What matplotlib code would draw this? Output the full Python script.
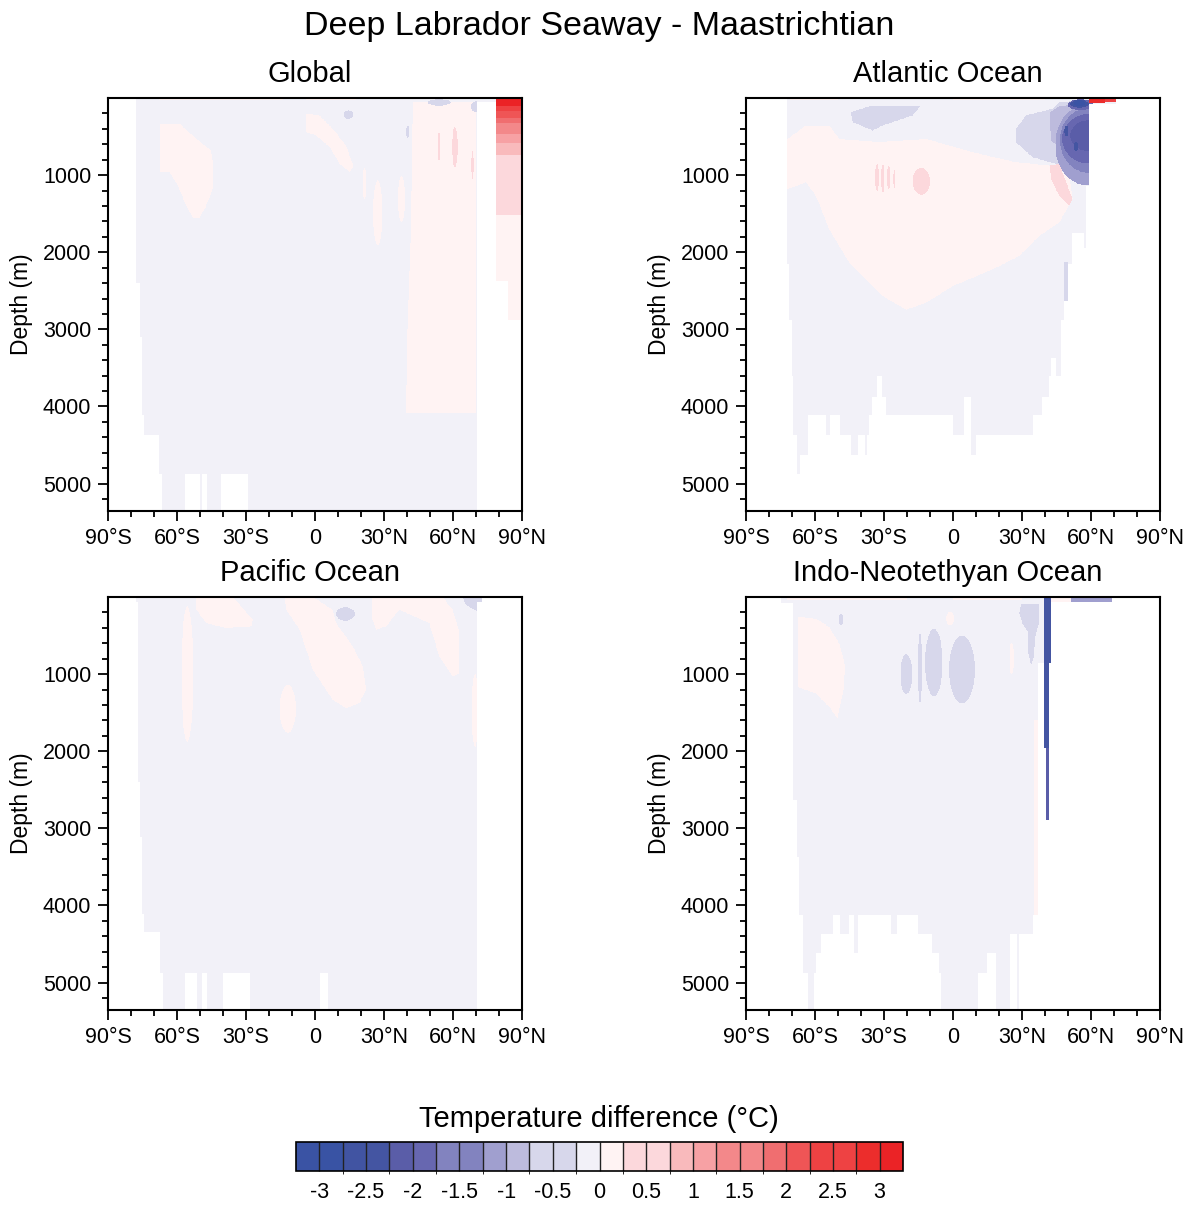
import numpy as np
import matplotlib
matplotlib.use("Agg")
import matplotlib.pyplot as plt
from matplotlib.colors import ListedColormap, BoundaryNorm
from matplotlib.path import Path
from matplotlib.cm import ScalarMappable

plt.rcParams['font.family'] = ['Liberation Sans', 'DejaVu Sans']

# ---------------- colour scale ----------------
LEVELS = [-3.0, -2.75, -2.5, -2.25, -2.0, -1.75, -1.5, -1.25, -1.0, -0.75, -0.5, -0.25,
          0.0, 0.25, 0.5, 0.75, 1.0, 1.25, 1.5, 1.75, 2.0, 2.25, 2.5, 2.75, 3.0]
COLORS = ['#3A53A4', '#3953A4', '#4154A2', '#4455A2', '#5A5DA8', '#6767B0', '#8283BF',
          '#8283BF', '#A09FCF', '#BDBBDD', '#D7D7EB', '#D7D7EB', '#F2F1F8', '#FFF3F3',
          '#FCD8DC', '#FCD8DC', '#F9BABC', '#F7A1A4', '#F3888A', '#F3888A', '#F06E70',
          '#EF5556', '#EE4243', '#EE4243', '#EC2D2C', '#EB2326']
CBAR_TICKS = [-3, -2.5, -2, -1.5, -1, -0.5, 0, 0.5, 1, 1.5, 2, 2.5, 3]
CBAR_LABELS = ['-3', '-2.5', '-2', '-1.5', '-1', '-0.5', '0', '0.5', '1', '1.5', '2', '2.5', '3']

LAT_TICKS = [-90, -60, -30, 0, 30, 60, 90]
LAT_LABELS = ['90°S', '60°S', '30°S', '0', '30°N', '60°N', '90°N']
DEPTH_TICKS = [1000, 2000, 3000, 4000, 5000]
DEPTH_MAX = 5355

TITLE = 'Deep Labrador Seaway - Maastrichtian'
PANEL_TITLES = ['Global', 'Atlantic Ocean', 'Pacific Ocean', 'Indo-Neotethyan Ocean']
CBAR_TITLE = 'Temperature difference (°C)'

BACKGROUND = -0.1   # weak cooling that fills most of the ocean

# ---------------- Global ----------------
GLOBAL_FLOOR_EDGES = [-78.0, -77.0, -76.2, -75.1, -74.1, -67.8, -66.4, -56.3, -50.2, -49.2,
                      -47.0, -40.8, -28.9, 70.7, 78.7, 83.8, 89.5]
GLOBAL_FLOOR_DEPTHS = [2400, 2400, 3100, 4110, 4370, 4870, 5400, 4870, 5400, 4870,
                       5400, 4870, 5400, 60, 2380, 2880]
GLOBAL_POLYGONS = [
    (0.1, [(-67.6, 346), (-58.9, 346), (-51.6, 541), (-45.1, 693), (-44.4, 844), (-44.4, 1190),
           (-47.3, 1407), (-50.2, 1559), (-53.1, 1559), (-56.0, 1407), (-59.6, 1147),
           (-63.2, 974), (-67.6, 974)]),
    (0.1, [(-3.8, 216), (1.9, 238), (7.7, 411), (13.5, 628), (16.7, 888), (15.3, 974),
           (10.7, 866), (6.4, 650), (0.5, 498), (-3.8, 455)]),
    (0.1, [(42.5, 60), (70.3, 60), (70.3, 4090), (39.4, 4090), (40.3, 3000), (41.7, 1700),
           (42.2, 500)]),
]
GLOBAL_ELLIPSES = [  # value, lat, depth, half-width lat, half-height depth
    (0.1, 21.5, 1120, 0.8, 200), (0.1, 27.3, 1500, 2.0, 420), (0.1, 37.6, 1320, 1.5, 300),
    (0.3, 53.9, 640, 0.5, 185), (0.3, 60.8, 650, 1.2, 260), (0.3, 68.5, 880, 0.45, 185),
    (-0.4, 14.5, 227, 2.2, 55), (-0.4, 40.3, 450, 0.8, 80), (-0.4, 54.0, 70, 5.0, 40),
    (-0.4, 70.0, 125, 2.2, 70),
]
GLOBAL_RECTS = [  # value, lat0, lat1, depth0, depth1
    (0.1, -68, -14, 0, 40), (0.1, -4, 18, 0, 40),
    (3.1, 78.7, 89.5, 0, 110), (2.6, 78.7, 89.5, 110, 184), (2.1, 78.7, 89.5, 184, 270),
    (1.9, 78.7, 89.5, 270, 335), (1.4, 78.7, 89.5, 335, 485), (1.1, 78.7, 89.5, 485, 593),
    (0.9, 78.7, 89.5, 593, 744), (0.4, 78.7, 89.5, 744, 1520), (0.1, 78.7, 89.5, 1520, 2900),
]

# ---------------- Atlantic ----------------
ATL_FLOOR_EDGES = [-71.9, -71.2, -70.1, -69.3, -68.0, -66.4, -63.2, -54.9, -53.3, -49.1,
                   -44.1, -41.2, -38.3, -37.4, -36.4, -34.9, -33.2, -31.0, -29.1, -0.2,
                   4.9, 7.8, 10.0, 34.6, 38.7, 41.9, 42.9, 44.8, 46.9, 48.4, 50.3, 51.7,
                   57.1, 58.1, 59.2, 71.0]
ATL_FLOOR_DEPTHS = [2165, 2880, 3615, 4373, 4871, 4624, 4114, 4373, 4114, 4373, 4624, 4373,
                    4624, 4373, 4114, 3875, 3615, 3875, 4114, 4373, 3875, 4624, 4373, 4114,
                    3875, 3615, 3377, 3615, 2880, 2640, 2165, 1754, 1950, 1150, 90]
ATL_POLYGONS = [
    (0.1, [(-71.9, 541), (-63.9, 368), (-53.8, 368), (-49.4, 541), (-32.0, 585), (-11.8, 541),
           (8.5, 714), (27.4, 844), (41.9, 888), (50.6, 1018), (52.0, 1321), (46.2, 1624),
           (37.5, 1797), (28.8, 2057), (17.2, 2230), (-0.2, 2446), (-11.8, 2663),
           (-20.4, 2750), (-30.6, 2576), (-45.1, 2143), (-53.8, 1710), (-59.6, 1277),
           (-63.9, 1104), (-71.9, 1191)]),
    (0.3, [(41.9, 888), (46.2, 866), (49.8, 1147), (52.0, 1321), (50.6, 1408), (46.2, 1277),
           (42.6, 1061)]),
    (-0.4, [(-44.4, 195), (-34.9, 108), (-13.9, 108), (-17.5, 238), (-30.6, 368),
            (-34.9, 433), (-43.6, 325)]),
    (-0.4, [(27.4, 411), (31.7, 238), (43.3, 152), (46.2, 65), (59.2, 43), (59.2, 1147),
            (52.0, 887), (44.8, 866), (34.6, 779), (27.4, 584)]),
    (-0.9, [(41.9, 200), (46.2, 120), (59.2, 60), (59.2, 1130), (53.5, 930), (48.5, 700),
            (42.5, 560)]),
]
ATL_ELLIPSES = [
    (0.3, -33.0, 1040, 0.9, 170), (0.3, -30.5, 1050, 0.8, 180), (0.3, -28.0, 1040, 0.7, 150),
    (0.3, -25.5, 1060, 0.5, 120), (0.3, -13.8, 1090, 3.7, 175),
    (-1.1, 58.0, 620, 13.5, 520), (-1.4, 59.0, 560, 12.5, 420), (-1.8, 59.0, 540, 11.5, 320),
    (-2.1, 59.0, 500, 8.0, 200),
    (-2.4, 49.3, 440, 0.9, 70), (-2.4, 53.5, 640, 1.0, 60),
    (-1.8, 55.5, 100, 5.5, 70), (-2.6, 55.0, 90, 4.0, 50), (-3.1, 55.0, 80, 2.5, 35),
]
ATL_RECTS = [
    (0.1, -71, -50, 0, 45), (0.1, 0, 40, 0, 35), (-0.4, 48.4, 49.8, 2140, 2660),
    (2.9, 59.2, 66.0, 0, 80), (2.3, 66.0, 71.0, 0, 60),
]

# ---------------- Pacific ----------------
PAC_FLOOR_EDGES = [-78.0, -77.0, -76.0, -75.1, -74.1, -67.3, -66.1, -56.3, -51.3, -49.0,
                   -47.0, -40.0, -28.2, 2.0, 5.9, 70.7, 72.5]
PAC_FLOOR_DEPTHS = [60, 2400, 3117, 4114, 4352, 4871, 5400, 4871, 5400, 4871, 5400, 4871,
                    5400, 4871, 5400, 60]
PAC_POLYGONS = [
    (0.1, [(-51.6, 0), (-35.7, 0), (-27.0, 294), (-27.7, 381), (-38.6, 403), (-47.3, 338),
           (-51.6, 165)]),
    (0.1, [(-13.3, 0), (-0.95, 0), (7.7, 165), (9.2, 338), (16.4, 640), (20.8, 900),
           (22.2, 1204), (19.3, 1377), (13.5, 1442), (7.7, 1334), (-0.95, 944), (-6.7, 424),
           (-12.5, 165)]),
    (0.1, [(25.1, 0), (55.5, 0), (59.9, 165), (62.8, 468), (62.8, 987), (59.9, 1030),
           (54.0, 771), (49.7, 338), (36.7, 165), (30.9, 381), (26.6, 424), (25.1, 295)]),
    (-0.4, [(64.2, 0), (72.9, 0), (72.9, 186), (71.5, 208), (65.6, 100)]),
]
PAC_ELLIPSES = [
    (0.1, -55.5, 1000, 2.6, 880), (0.1, -11.8, 1450, 3.5, 310), (0.1, 69.6, 1470, 1.5, 470),
    (-0.4, 13.2, 220, 4.2, 85),
]
PAC_RECTS = []

# ---------------- Indo-Neotethyan ----------------
IND_FLOOR_EDGES = [-74.8, -69.3, -68.0, -66.8, -65.4, -63.2, -60.3, -59.3, -57.4, -54.1,
                   -51.9, -49.1, -45.1, -43.2, -41.2, -27.0, -24.1, -15.1, -9.1, -6.2,
                   -5.2, 11.1, 15.1, 18.7, 24.8, 28.1, 28.8, 34.6, 37.1, 39.5, 40.7, 41.9,
                   42.9, 69.0]
IND_FLOOR_DEPTHS = [80, 2635, 3370, 4126, 4882, 5400, 4882, 4622, 4363, 4363, 4126, 4363,
                    4126, 4622, 4126, 4363, 4126, 4363, 4622, 4882, 5400, 4882, 4622, 5400,
                    4363, 5400, 4363, 4126, 860, 1960, 2890, 860, 70]
IND_POLYGONS = [
    (0.1, [(-67.5, 259), (-59.6, 281), (-53.8, 389), (-49.4, 605), (-46.8, 907),
           (-47.7, 1210), (-50.2, 1577), (-53.8, 1426), (-59.6, 1253), (-67.5, 1166)]),
    (-0.4, [(29.5, 86), (37.5, 86), (37.2, 346), (35.8, 518), (35.2, 778), (33.9, 886),
            (32.9, 734), (32.9, 475), (30.3, 346), (28.8, 216)]),
]
IND_ELLIPSES = [
    (0.1, -1.2, 280, 1.8, 85), (-0.4, -48.7, 290, 1.0, 75), (-0.4, -20.3, 1000, 2.5, 260),
    (-0.4, -14.3, 920, 0.8, 460), (-0.4, -8.3, 850, 3.8, 440), (-0.4, 3.9, 940, 5.6, 440),
    (0.1, 25.5, 800, 1.0, 200),
]
IND_RECTS = [
    (0.1, -72, -20, 0, 45), (0.1, 0, 30, 0, 45), (0.1, 35.3, 37.1, 1600, 4360),
    (-2.4, 39.5, 42.9, 0, 2900), (-2.1, 40.7, 41.9, 1960, 2900),
    (0.1, 42.9, 51.5, 0, 70), (-1.1, 51.5, 69.0, 0, 70),
]

PANELS = [
    (GLOBAL_FLOOR_EDGES, GLOBAL_FLOOR_DEPTHS, GLOBAL_POLYGONS, GLOBAL_ELLIPSES, GLOBAL_RECTS),
    (ATL_FLOOR_EDGES, ATL_FLOOR_DEPTHS, ATL_POLYGONS, ATL_ELLIPSES, ATL_RECTS),
    (PAC_FLOOR_EDGES, PAC_FLOOR_DEPTHS, PAC_POLYGONS, PAC_ELLIPSES, PAC_RECTS),
    (IND_FLOOR_EDGES, IND_FLOOR_DEPTHS, IND_POLYGONS, IND_ELLIPSES, IND_RECTS),
]

# ---------------- field assembly ----------------
LAT = np.arange(-89.9, 90, 0.2)
DEP = np.arange(2.5, 5400, 5.0)
LL, DD = np.meshgrid(LAT, DEP)
PTS = np.column_stack([LL.ravel(), DD.ravel()])


def build_field(edges, floors, polys, ellipses, rects):
    F = np.full(LL.shape, np.nan)
    for i, fl in enumerate(floors):
        m = (LL >= edges[i]) & (LL < edges[i + 1]) & (DD < fl)
        F[m] = BACKGROUND
    ocean = ~np.isnan(F)
    for val, verts in polys:
        inside = Path(verts + [verts[0]]).contains_points(PTS).reshape(LL.shape)
        F[inside & ocean] = val
    for val, clat, cdep, a, b in ellipses:
        inside = ((LL - clat) / a) ** 2 + ((DD - cdep) / b) ** 2 <= 1
        F[inside & ocean] = val
    for val, l0, l1, d0, d1 in rects:
        inside = (LL >= l0) & (LL < l1) & (DD >= d0) & (DD < d1)
        F[inside & ocean] = val
    return F


cmap = ListedColormap(COLORS[1:-1])
cmap.set_under(COLORS[0])
cmap.set_over(COLORS[-1])
cmap.set_bad((1, 1, 1, 0))
norm = BoundaryNorm(LEVELS, cmap.N)

W, H = 1195, 1205
fig = plt.figure(figsize=(W / 100, H / 100), dpi=100)

AX_BOXES = [(108, 98), (746, 98), (108, 597), (746, 597)]
AX_W, AX_H = 414, 413
TITLE_Y = [74, 74, 573, 573]

for k, (box, panel) in enumerate(zip(AX_BOXES, PANELS)):
    x0, y0 = box
    ax = fig.add_axes([x0 / W, 1 - (y0 + AX_H) / H, AX_W / W, AX_H / H])
    F = build_field(*panel)
    ax.imshow(F, extent=(-90, 90, 5400, 0), origin='upper', aspect='auto',
              cmap=cmap, norm=norm, interpolation='nearest')
    ax.set_xlim(-90, 90)
    ax.set_ylim(DEPTH_MAX, 0)
    ax.set_xticks(LAT_TICKS)
    ax.set_xticklabels(LAT_LABELS)
    ax.set_xticks(np.arange(-90, 91, 10), minor=True)
    ax.set_yticks(DEPTH_TICKS)
    ax.set_yticklabels([str(d) for d in DEPTH_TICKS])
    ax.set_yticks(np.arange(200, 5400, 200), minor=True)
    ax.tick_params(which='both', direction='out', top=False, right=False, width=1.3,
                   labelsize=15.5, colors='black')
    ax.tick_params(which='major', length=7, pad=5)
    ax.tick_params(which='minor', length=4)
    for sp in ax.spines.values():
        sp.set_linewidth(1.5)
    ax.set_ylabel('Depth (m)', fontsize=16.5, labelpad=7)
    fig.text((x0 + AX_W / 2 - 5) / W, 1 - TITLE_Y[k] / H, PANEL_TITLES[k], ha='center',
             va='center', fontsize=21)

fig.text(599 / W, 1 - 27 / H, TITLE, ha='center', va='center', fontsize=24.5)

# colour bar
cax = fig.add_axes([296 / W, 1 - 1171 / H, (903 - 296) / W, 29 / H])
sm = ScalarMappable(norm=norm, cmap=cmap)
cb = fig.colorbar(sm, cax=cax, orientation='horizontal', extend='both', extendrect=True,
                  extendfrac=1 / 24, drawedges=True, ticks=CBAR_TICKS)
cb.set_ticklabels(CBAR_LABELS)
cb.ax.tick_params(length=0, labelsize=15.5, pad=8)
cb.outline.set_linewidth(1.2)
cb.dividers.set_linewidth(1.0)
cb.dividers.set_color('#222222')
fig.text(599 / W, 1 - 1119 / H, CBAR_TITLE, ha='center', va='center', fontsize=21)

fig.savefig('out.png', dpi=100)
